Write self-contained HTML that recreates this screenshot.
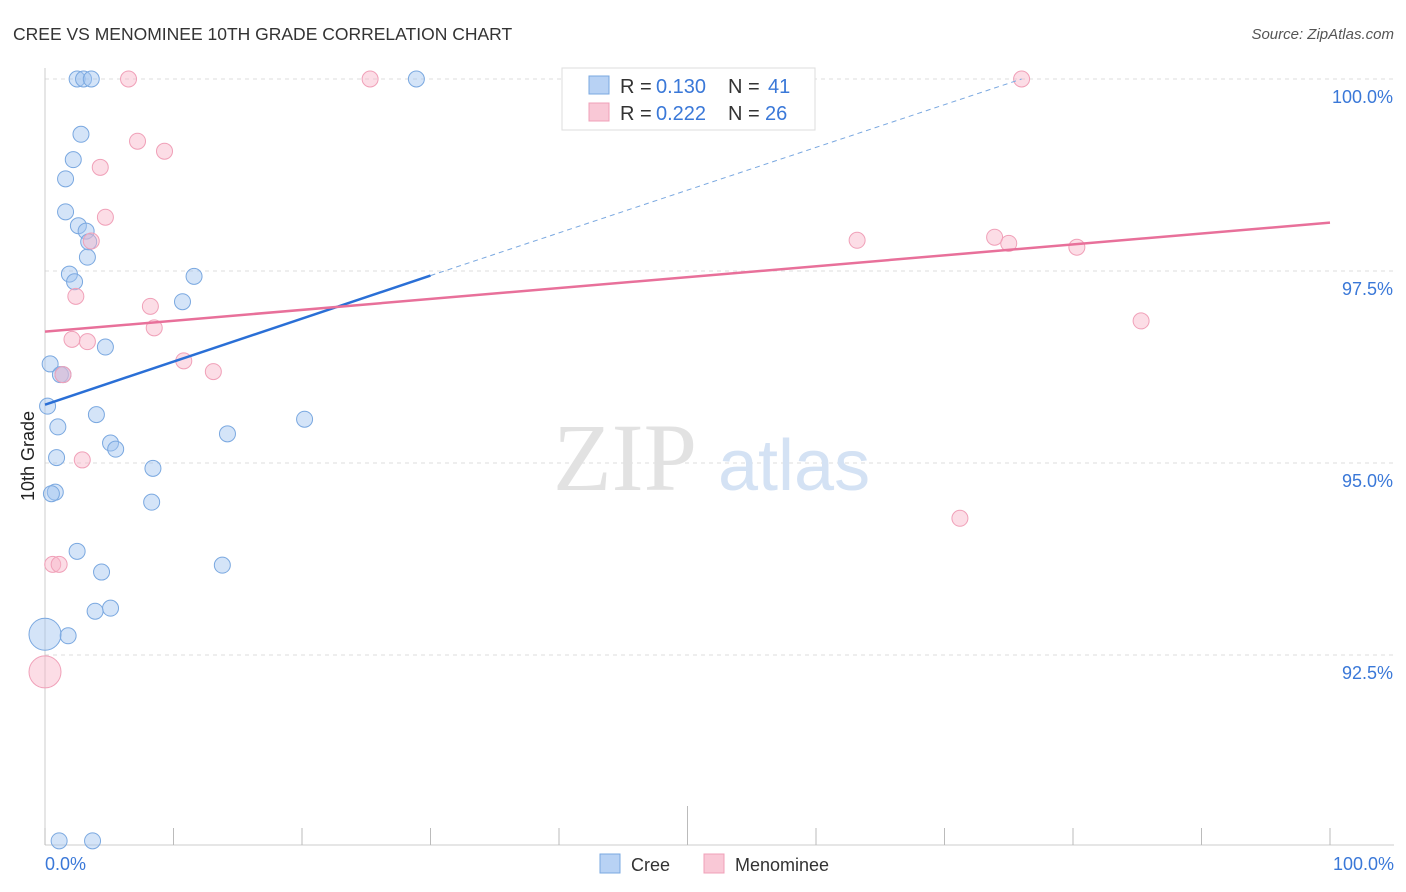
<!DOCTYPE html>
<html><head><meta charset="utf-8"><style>
body{margin:0;background:#fff;font-family:"Liberation Sans",sans-serif;}
svg{display:block}
</style></head><body>
<svg id="chart" width="1406" height="892">
<text x="13" y="40" font-size="17.5" fill="#333">CREE VS MENOMINEE 10TH GRADE CORRELATION CHART</text>
<text x="1394" y="39" font-size="15" fill="#555" font-style="italic" text-anchor="end">Source: ZipAtlas.com</text>
<g id="grid"></g>
<g><text x="553" y="490" font-size="96" fill="#e2e2e2" font-family="Liberation Serif,serif">ZIP</text><text x="718" y="490" font-size="72" fill="#d4e2f4">atlas</text></g>
<line x1="45" y1="68" x2="45" y2="845" stroke="#ccc"/>
<line x1="45" y1="845" x2="1394" y2="845" stroke="#ccc"/>
<g id="xticks"></g>
<text x="34" y="456" font-size="18" fill="#222" text-anchor="middle" transform="rotate(-90 34 456)">10th Grade</text>
<text x="45" y="870" font-size="18" fill="#3a78d8">0.0%</text>
<text x="1394" y="870" font-size="18" fill="#3a78d8" text-anchor="end">100.0%</text>
<g id="pts"></g>
<g id="lines"></g>
<g>
<rect x="562" y="68" width="253" height="62" fill="#fff" stroke="#ddd"/>
<rect x="589" y="76" width="20" height="18" fill="#b8d2f4" stroke="#7aa8e0"/>
<text y="93" font-size="20" fill="#333"><tspan x="620">R =</tspan><tspan x="656" fill="#3a78d8">0.130</tspan><tspan x="728">N =</tspan><tspan x="768" fill="#3a78d8">41</tspan></text>
<rect x="589" y="103" width="20" height="18" fill="#f9c8d6" stroke="#f0a0b8"/>
<text y="120" font-size="20" fill="#333"><tspan x="620">R =</tspan><tspan x="656" fill="#3a78d8">0.222</tspan><tspan x="728">N =</tspan><tspan x="765" fill="#3a78d8">26</tspan></text>
</g>
<g>
<rect x="600" y="854" width="20" height="19" fill="#b8d2f4" stroke="#7aa8e0"/>
<text x="631" y="871" font-size="18" fill="#333">Cree</text>
<rect x="704" y="854" width="20" height="19" fill="#f9c8d6" stroke="#f0a0b8"/>
<text x="735" y="871" font-size="18" fill="#333">Menominee</text>
</g>
</svg>
<script>
const yTicks=[100,97.5,95,92.5];
const yTickLabels=["100.0%","97.5%","95.0%","92.5%"];
const creeX=[2.5,3.0,3.6,28.9,2.8,2.2,1.6,1.6,2.6,3.2,3.4,3.3,1.9,2.3,11.6,10.7,4.7,0.4,1.2,1.4,0.2,4.0,20.2,1.0,14.2,5.1,5.5,0.9,8.4,0.8,0.5,8.3,2.5,4.4,13.8,5.1,3.9,1.8,0,1.1,3.7];
const creeY=[100,100,100,100,99.28,98.95,98.70,98.27,98.09,98.02,97.88,97.68,97.46,97.36,97.43,97.10,96.51,96.29,96.15,96.15,95.74,95.63,95.57,95.47,95.38,95.26,95.18,95.07,94.93,94.62,94.60,94.49,93.85,93.58,93.67,93.11,93.07,92.75,92.77,90.08,90.08];
const creeBig=[38];
const menX=[6.5,25.3,76.0,7.2,9.3,4.3,4.7,3.6,63.2,73.9,75.0,80.3,2.4,8.2,8.5,2.1,3.3,10.8,13.1,1.4,85.3,2.9,71.2,0.6,1.1,0];
const menY=[100,100,100,99.19,99.06,98.85,98.20,97.89,97.90,97.94,97.86,97.81,97.17,97.04,96.76,96.61,96.58,96.33,96.19,96.15,96.85,95.04,94.28,93.68,93.68,92.28];
const menBig=[25];
const creeTrend=[[0,95.76],[30,97.44],[76,100]];
const menTrend=[[0,96.71],[100,98.13]];
const NS="http://www.w3.org/2000/svg";
const sx=v=>45+v*12.85;
const sy=v=>79+(100-v)*76.8;
function mk(tag,attrs,parent){const e=document.createElementNS(NS,tag);for(const k in attrs)e.setAttribute(k,attrs[k]);parent.appendChild(e);return e;}
const grid=document.getElementById('grid');
yTicks.forEach((t,i)=>{
  const l=mk('line',{x1:45,x2:1394,y1:sy(t),y2:sy(t),stroke:'#ddd','stroke-dasharray':'4,4'},grid);
  
  
  const tx=mk('text',{x:1393,y:sy(t)+24,'font-size':18,fill:'#3a78d8','text-anchor':'end'},grid);
  tx.textContent=yTickLabels[i];
  
  
});
const xt=document.getElementById('xticks');
for(let i=0;i<=10;i++){
  const l=mk('line',{x1:sx(i*10),x2:sx(i*10),y1:i==5?806:828,y2:845,stroke:'#bbb'},xt);
  
  
}
const pts=document.getElementById('pts');
function drawPts(X,Y,big,fill,stroke,name){
  X.forEach((x,i)=>{
    const c=mk('circle',{cx:sx(x),cy:sy(Y[i]),r:big.includes(i)?16:8,fill:fill,stroke:stroke,'stroke-width':1},pts);
    
    
  });
}
drawPts(creeX,creeY,creeBig,'rgba(160,196,240,0.45)','#7aa8e0','cree-point');
drawPts(menX,menY,menBig,'rgba(248,180,200,0.45)','#f0a0b8','menominee-point');
const lines=document.getElementById('lines');
const a=mk('line',{x1:sx(creeTrend[0][0]),y1:sy(creeTrend[0][1]),x2:sx(creeTrend[1][0]),y2:sy(creeTrend[1][1]),stroke:'#2a6fd6','stroke-width':2.5},lines);


const b=mk('line',{x1:sx(creeTrend[1][0]),y1:sy(creeTrend[1][1]),x2:sx(creeTrend[2][0]),y2:sy(creeTrend[2][1]),stroke:'#7aa8e0','stroke-width':1,'stroke-dasharray':'5,4'},lines);


const c=mk('line',{x1:sx(menTrend[0][0]),y1:sy(menTrend[0][1]),x2:sx(menTrend[1][0]),y2:sy(menTrend[1][1]),stroke:'#e8709a','stroke-width':2.5},lines);


</script>
</body></html>
